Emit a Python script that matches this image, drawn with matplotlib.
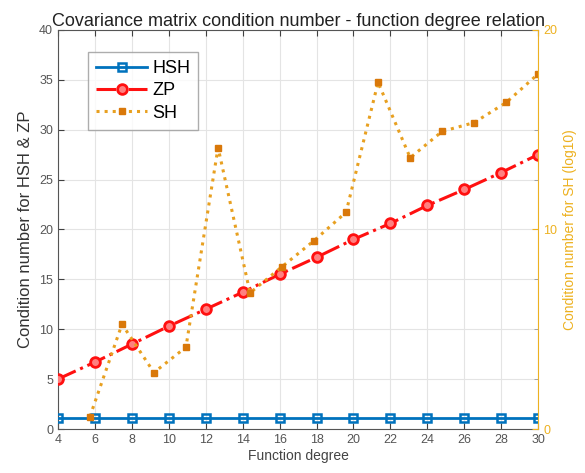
import matplotlib
matplotlib.use("Agg")
import matplotlib.pyplot as plt

plt.rcParams['font.family'] = ['Liberation Sans', 'DejaVu Sans']

# Data
degrees = [4, 6, 8, 10, 12, 14, 16, 18, 20, 22, 24, 26, 28, 30]
hsh = [1.1, 1.1, 1.1, 1.1, 1.1, 1.1, 1.1, 1.1, 1.1, 1.1, 1.1, 1.1, 1.1, 1.1]
zp = [5.0, 6.7, 8.5, 10.3, 12.0, 13.7, 15.5, 17.2, 19.0, 20.6, 22.4, 24.0, 25.7, 27.5]
sh_degrees = [5.73, 7.47, 9.2, 10.93, 12.67, 14.4, 16.13, 17.87, 19.6, 21.33,
              23.07, 24.8, 26.53, 28.27, 30.0]
sh = [0.62, 5.25, 2.83, 4.1, 14.1, 6.82, 8.13, 9.44, 10.86, 17.37,
      13.59, 14.91, 15.35, 16.36, 17.79]

xticks = [4, 6, 8, 10, 12, 14, 16, 18, 20, 22, 24, 26, 28, 30]
yticks_left = [0, 5, 10, 15, 20, 25, 30, 35, 40]
yticks_right = [0, 10, 20]

axis_gray = '#404040'
sh_axis_color = '#EDB120'

fig = plt.figure(figsize=(5.85, 4.73), dpi=100)
ax = fig.add_axes([0.099, 0.093, 0.821, 0.844])
ax2 = ax.twinx()

ax.plot(degrees, hsh, '-s', color='#0072BD', lw=2, ms=6, mfc='none', mew=1.8, label='HSH', zorder=3)
ax.plot(degrees, zp, '-.o', color='#FF1010', lw=2.2, ms=7, mfc='#FF8080', mew=2.0, label='ZP', zorder=3)
l3, = ax2.plot(sh_degrees, sh, ':s', color='#E8A020', lw=2.2, ms=4.5, mfc='#D9780A', mec='#D9780A', label='SH')

ax.set_xlim(4, 30)
ax.set_ylim(0, 40)
ax2.set_ylim(0, 20)
ax.set_xticks(xticks)
ax.set_yticks(yticks_left)
ax2.set_yticks(yticks_right)
ax2.set_yticks([2.5, 5, 7.5, 12.5, 15, 17.5], minor=True)

ax.grid(True, color='#e4e4e4', lw=0.8)
ax.set_axisbelow(True)

ax.tick_params(axis='both', direction='in', length=4, colors=axis_gray, labelsize=9, top=True, labelcolor='#555555')
ax.tick_params(axis='y', right=False)
ax2.tick_params(axis='y', direction='in', length=4, colors=sh_axis_color, labelsize=9)
ax2.tick_params(axis='y', which='minor', direction='in', length=3, colors='#999999')

for s in ['left', 'bottom', 'top']:
    ax.spines[s].set_color('#555555')
ax.spines['right'].set_visible(False)
ax2.spines['right'].set_color(sh_axis_color)
ax2.spines['left'].set_visible(False)
ax2.spines['top'].set_visible(False)
ax2.spines['bottom'].set_visible(False)

ax.set_title('Covariance matrix condition number - function degree relation', fontsize=13, color='#222222', pad=3)
ax.set_xlabel('Function degree', fontsize=10, color='#444444', labelpad=2)
ax.set_ylabel('Condition number for HSH & ZP', fontsize=12, color='#333333', labelpad=4)
ax2.set_ylabel('Condition number for SH (log10)', fontsize=10, color=sh_axis_color, labelpad=4)

h1, lab1 = ax.get_legend_handles_labels()
leg = ax.legend(h1 + [l3], lab1 + ['SH'], loc='upper left', bbox_to_anchor=(0.063, 0.945),
                borderaxespad=0, fontsize=13, frameon=True, fancybox=False, edgecolor='#999999',
                handlelength=2.8, handletextpad=0.3, borderpad=0.45, labelspacing=0.3)
leg.get_frame().set_linewidth(1.0)
leg.set_zorder(10)

fig.savefig('out.png', dpi=100)
